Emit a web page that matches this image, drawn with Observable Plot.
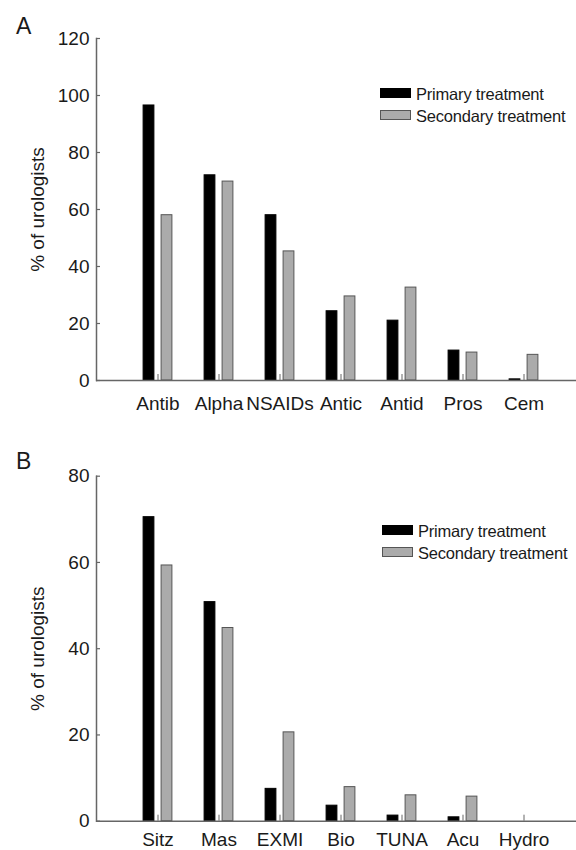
<!DOCTYPE html>
<html><head><meta charset="utf-8">
<script src="https://cdn.jsdelivr.net/npm/d3@7"></script>
<script src="https://cdn.jsdelivr.net/npm/@observablehq/plot@0.6"></script>
<style>
body{margin:0;background:#fff;}
#fig{position:relative;width:576px;height:850px;font-family:"Liberation Sans",Arial,sans-serif;color:#1a1a1a;overflow:hidden;}
.panel{position:absolute;left:0;}
.letter{position:absolute;font-size:23px;line-height:1;}
.legend{position:absolute;font-size:16.5px;line-height:1;letter-spacing:-0.2px;}
.row{position:relative;height:21.7px;white-space:nowrap;}
.sw{position:absolute;left:0;top:2px;width:31px;height:10px;box-sizing:border-box;}
.lt{position:absolute;left:36px;top:0;}
</style>
</head><body>
<div id="fig"></div>
<script>
const seriesNames = ["Primary treatment", "Secondary treatment"];
const seriesFill = ["#000000", "#ababab"];
const seriesStroke = ["#000000", "#555555"];

const medCats = ["Antib", "Alpha", "NSAIDs", "Antic", "Antid", "Pros", "Cem"];
const medPrimary = [96.5, 72, 58, 24.3, 21, 10.5, 0.4];
const medSecondary = [58, 69.8, 45.3, 29.5, 32.6, 9.8, 9];
const medTicks = [0, 20, 40, 60, 80, 100, 120];

const nonCats = ["Sitz", "Mas", "EXMI", "Bio", "TUNA", "Acu", "Hydro"];
const nonPrimary = [70.5, 50.8, 7.5, 3.6, 1.3, 0.9, 0];
const nonSecondary = [59.3, 44.8, 20.6, 7.9, 6.0, 5.7, 0];
const nonTicks = [0, 20, 40, 60, 80];

const yLabel = "% of urologists";
const panelLetters = ["A", "B"];

function makePanel(cats, prim, sec, ticks, height, mt, mb, labelPad) {
  const data = cats.flatMap((c, i) => [
    {cat: c, s: 0, value: prim[i]},
    {cat: c, s: 1, value: sec[i]}
  ]);
  const axisCol = "#666";
  return Plot.plot({
    width: 576, height,
    marginLeft: 96, marginRight: 0, marginTop: mt, marginBottom: mb,
    style: {fontFamily: '"Liberation Sans", Arial, sans-serif', fontSize: "19px", color: "#1a1a1a", background: "transparent", overflow: "visible"},
    x: {domain: cats, range: [126.4, 554.6], padding: 0, label: null},
    y: {domain: [0, ticks[ticks.length - 1]], ticks, label: null},
    marks: [
      Plot.barY(data.filter(d => d.s === 0), {x: "cat", y: "value", fill: seriesFill[0], stroke: seriesStroke[0], strokeWidth: 1, insetLeft: 16.1, insetRight: 34.1}),
      Plot.barY(data.filter(d => d.s === 1), {x: "cat", y: "value", fill: seriesFill[1], stroke: seriesStroke[1], strokeWidth: 1, insetLeft: 34.1, insetRight: 16.1}),
      Plot.axisY({ticks, tickSize: -4, tickFormat: () => "", stroke: axisCol, strokeWidth: 1.2, label: null}),
      Plot.axisY({ticks, tickSize: 0, tickPadding: 7, label: yLabel, labelAnchor: "center", labelOffset: 66, labelArrow: false}),
      Plot.axisX({tickSize: -6, tickFormat: () => "", stroke: axisCol, strokeWidth: 1, label: null}),
      Plot.axisX({tickSize: 0, tickPadding: labelPad, label: null}),
      Plot.frame({anchor: "left", stroke: axisCol, strokeWidth: 1.5}),
      Plot.ruleY([0], {stroke: axisCol, strokeWidth: 1.5})
    ]
  });
}

function legend(top, left) {
  const el = document.createElement("div");
  el.className = "legend";
  el.style.top = top + "px";
  el.style.left = left + "px";
  seriesNames.forEach((n, i) => {
    const r = document.createElement("div");
    r.className = "row";
    const sw = document.createElement("span");
    sw.className = "sw";
    sw.style.background = seriesFill[i];
    sw.style.border = "1px solid " + seriesStroke[i];
    const t = document.createElement("span");
    t.className = "lt";
    t.textContent = n;
    r.appendChild(sw); r.appendChild(t);
    el.appendChild(r);
  });
  return el;
}

const fig = document.getElementById("fig");

const pA = makePanel(medCats, medPrimary, medSecondary, medTicks, 425, 38, 45, 16);
pA.classList.add("panel"); pA.style.top = "0px";
fig.appendChild(pA);

const pB = makePanel(nonCats, nonPrimary, nonSecondary, nonTicks, 425, 50.7, 29.3, 11.5);
pB.classList.add("panel"); pB.style.top = "425px";
fig.appendChild(pB);

[[15, 16], [450, 16]].forEach(([t, l], i) => {
  const d = document.createElement("div");
  d.className = "letter";
  d.style.top = t + "px"; d.style.left = l + "px";
  d.textContent = panelLetters[i];
  fig.appendChild(d);
});

fig.appendChild(legend(86, 380));
fig.appendChild(legend(523, 382));
</script>
</body></html>
